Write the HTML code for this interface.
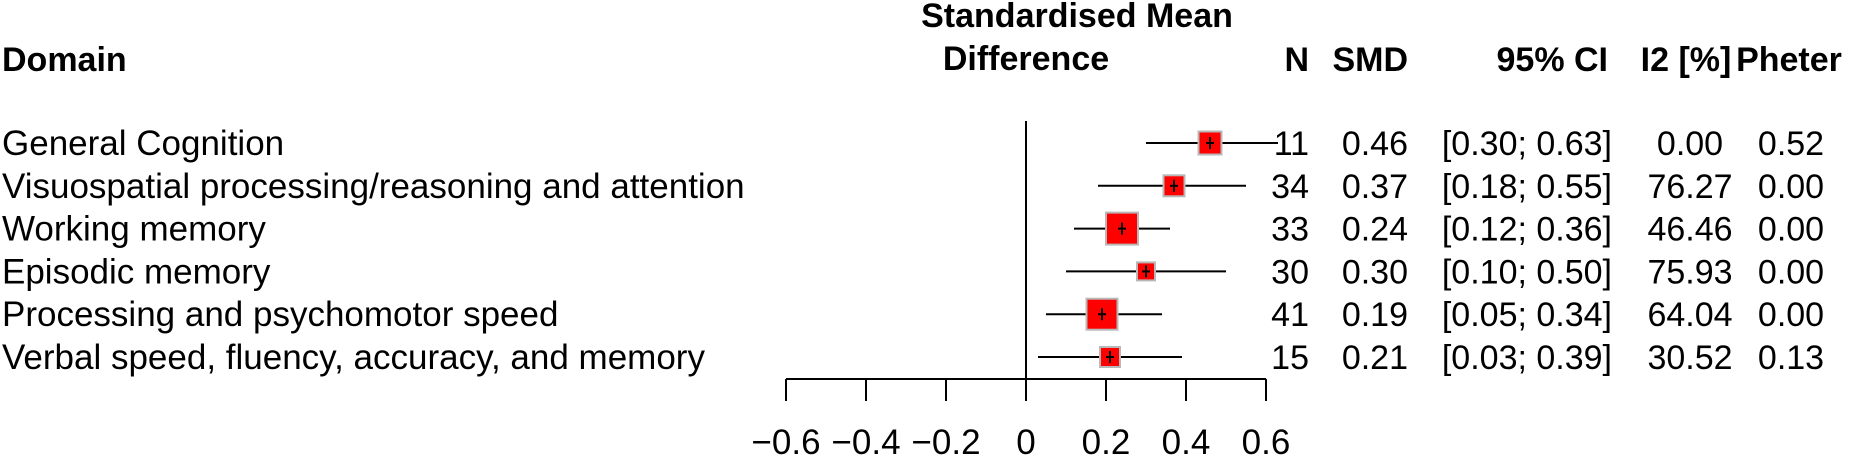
<!DOCTYPE html>
<html><head><meta charset="utf-8"><style>
html,body{margin:0;padding:0;background:#fff;}
svg{display:block;font-family:"Liberation Sans",Arial,sans-serif;}
</style></head><body>
<svg id="chart" width="1866" height="458" viewBox="0 0 1866 458" xmlns="http://www.w3.org/2000/svg">
<g font-weight="bold" font-size="34" fill="#000">
<text x="2" y="71">Domain</text>
<text x="1077" y="27" text-anchor="middle">Standardised Mean</text>
<text x="1026" y="70" text-anchor="middle">Difference</text>
<text x="1309" y="71" text-anchor="end">N</text>
<text x="1408" y="71" text-anchor="end">SMD</text>
<text x="1608" y="71" text-anchor="end">95% CI</text>
<text x="1686" y="71" text-anchor="middle">I2 [%]</text>
<text x="1789" y="71" text-anchor="middle">Pheter</text>
</g>
<g id="rows"></g>
<g id="axis"></g>
</svg>
<script>
const domains = ["General Cognition","Visuospatial processing/reasoning and attention","Working memory","Episodic memory","Processing and psychomotor speed","Verbal speed, fluency, accuracy, and memory"];
const nStudies = [11,34,33,30,41,15];
const smd = [0.46,0.37,0.24,0.30,0.19,0.21];
const ciLow = [0.30,0.18,0.12,0.10,0.05,0.03];
const ciHigh = [0.63,0.55,0.36,0.50,0.34,0.39];
const i2 = ["0.00","76.27","46.46","75.93","64.04","30.52"];
const pheter = ["0.52","0.00","0.00","0.00","0.00","0.13"];
const weights = [23,21,32,18,31,20];
const ticks = [-0.6,-0.4,-0.2,0,0.2,0.4,0.6];
const tickLabels = ["\u22120.6","\u22120.4","\u22120.2","0","0.2","0.4","0.6"];

const NS = "http://www.w3.org/2000/svg";
const x = v => 1026 + v * 400;
const y = i => 143 + i * 42.8;
function mk(tag, attrs, parent, txt){
  const e = document.createElementNS(NS, tag);
  for (const k in attrs) e.setAttribute(k, attrs[k]);
  if (txt !== undefined) e.textContent = txt;
  parent.appendChild(e); return e;
}
const rows = document.getElementById('rows');
const axis = document.getElementById('axis');
const FS = 35;
const NFS = 34;

const zl = mk('line',{x1:x(0),x2:x(0),y1:121,y2:379,stroke:'#000','stroke-width':2},rows);



domains.forEach((d,i)=>{
  const cy = y(i);
  const by = cy + 12;
  const t = mk('text',{x:2,y:by,'font-size':FS},rows,d);
  
  
  const ci = mk('line',{x1:x(ciLow[i]),x2:x(ciHigh[i]),y1:cy,y2:cy,stroke:'#000','stroke-width':2},rows);
  
  
  const s = weights[i];
  const b = mk('rect',{x:x(smd[i])-s/2,y:cy-s/2,width:s,height:s,fill:'#ff0000',stroke:'#b8b8b8','stroke-width':2},rows);
  
  
  const c1 = mk('line',{x1:x(smd[i])-4,x2:x(smd[i])+4,y1:cy,y2:cy,stroke:'#000','stroke-width':2},rows);
  
  
  const c2 = mk('line',{x1:x(smd[i]),x2:x(smd[i]),y1:cy-6,y2:cy+6,stroke:'#000','stroke-width':2},rows);
  
  
  const tn = mk('text',{x:1309,y:by,'font-size':NFS,'text-anchor':'end'},rows,String(nStudies[i]));
  
  
  const ts = mk('text',{x:1408,y:by,'font-size':NFS,'text-anchor':'end'},rows,smd[i].toFixed(2));
  
  
  const tc = mk('text',{x:1612,y:by,'font-size':NFS,'text-anchor':'end'},rows,'['+ciLow[i].toFixed(2)+'; '+ciHigh[i].toFixed(2)+']');
  
  
  const ti = mk('text',{x:1690,y:by,'font-size':NFS,'text-anchor':'middle'},rows,i2[i]);
  
  
  const tp = mk('text',{x:1791,y:by,'font-size':NFS,'text-anchor':'middle'},rows,pheter[i]);
  
  
});

const al = mk('line',{x1:x(ticks[0]),x2:x(ticks[ticks.length-1]),y1:379,y2:379,stroke:'#000','stroke-width':2},axis);


ticks.forEach((v,i)=>{
  const tk = mk('line',{x1:x(v),x2:x(v),y1:379,y2:401,stroke:'#000','stroke-width':2},axis);
  
  
  const tl = mk('text',{x:x(v),y:454,'font-size':FS,'text-anchor':'middle'},axis,tickLabels[i]);
  
  
});
</script>
</body></html>
